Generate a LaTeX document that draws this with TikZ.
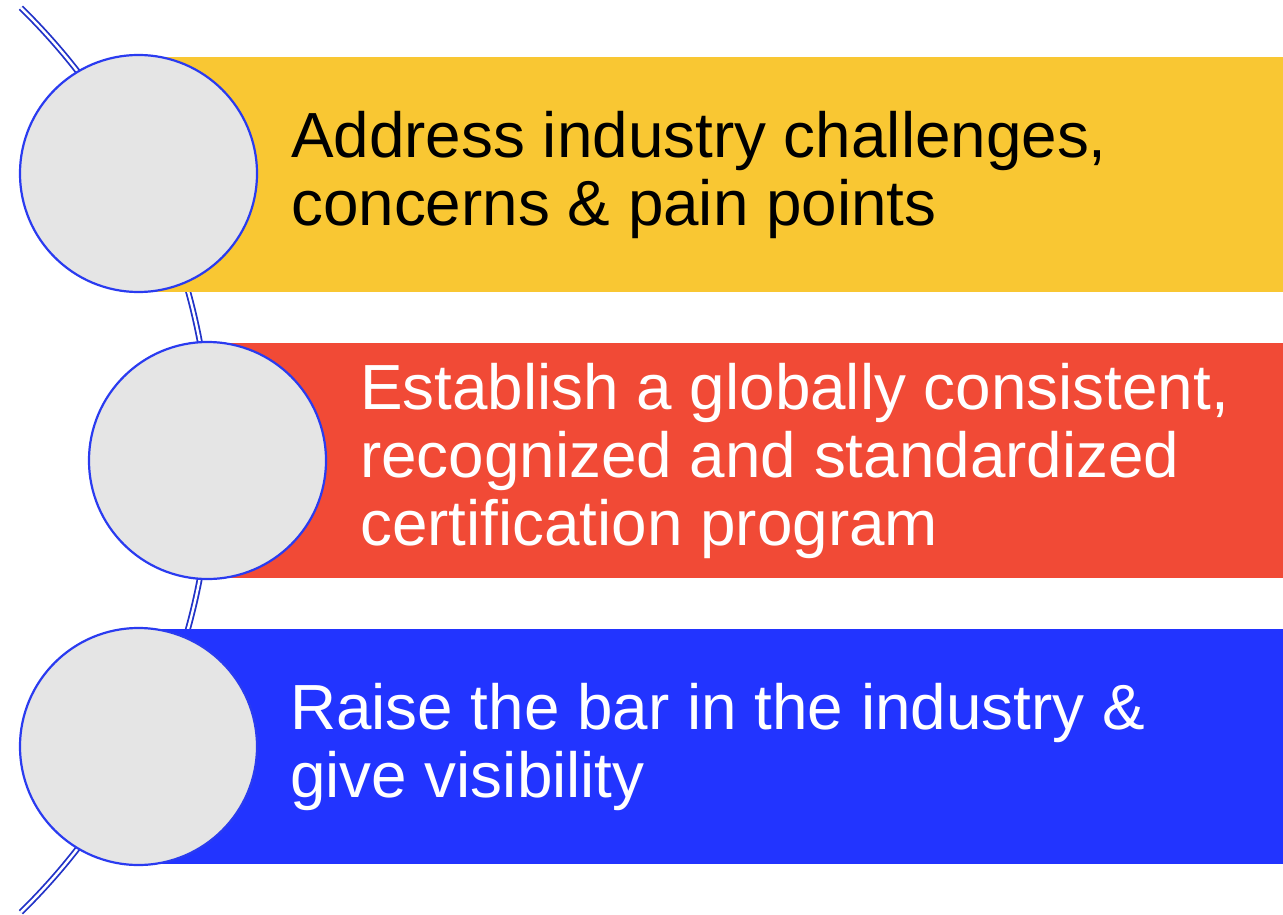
\documentclass[tikz,border=0pt]{standalone}
\usepackage{fontspec}
\setmainfont{Liberation Sans}
\usetikzlibrary{calc}
\definecolor{barYellow}{HTML}{F9C733}
\definecolor{barRed}{HTML}{F14A36}
\definecolor{barBlue}{HTML}{2234FF}
\definecolor{circFill}{HTML}{E5E5E5}
\definecolor{circLine}{HTML}{2A3BF0}
\definecolor{arcLine}{HTML}{2233C8}
\begin{document}
\begin{tikzpicture}[x=1pt,y=-1pt,
  bar/.style={draw=none,rectangle,inner sep=0pt,anchor=north west},
  disc/.style={circle,draw=circLine,line width=2.2pt,fill=circFill,minimum size=237pt,inner sep=0pt},
  label/.style={anchor=base west,inner sep=0pt,align=left,font=\fontsize{63.8}{67.8}\selectfont},
  spine/.style={draw=arcLine,line width=1.8pt,double=white,double distance=2.4pt}
]
\useasboundingbox (0,0) rectangle (1283,915);
% background spine arc
\coordinate (arcTop) at ($(-422,460)+(-45.6:633)$);
\draw[spine] (arcTop) arc[start angle=-45.6,end angle=45.6,radius=633];
% bars
\node[bar,fill=barYellow,minimum width=1145pt,minimum height=235pt] (b1) at (138,57) {};
\node[bar,fill=barRed,minimum width=1076pt,minimum height=235pt] (b2) at (207,343) {};
\node[bar,fill=barBlue,minimum width=1145pt,minimum height=235pt] (b3) at (138,629) {};
% circles
\node[disc] (c1) at (138.5,173.5) {};
\node[disc] (c2) at (207.5,460.5) {};
\node[disc] (c3) at (138.5,746.5) {};
% texts (anchored at the baseline of the last line)
\node[label,text=black] (t1) at (291,225) {Address industry challenges,\\concerns \& pain points};
\node[label,text=white] (t2) at (360,545) {Establish a globally consistent,\\recognized and standardized\\certification program};
\node[label,text=white] (t3) at (290,797) {Raise the bar in the industry \&\\give visibility};
\end{tikzpicture}
\end{document}
